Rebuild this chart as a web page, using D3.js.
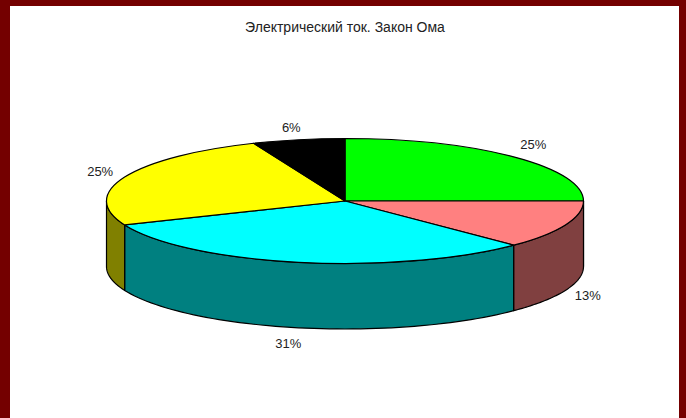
<!DOCTYPE html>
<html>
<head>
<meta charset="utf-8">
<script src="https://cdn.jsdelivr.net/npm/d3@7"></script>
<style>
  html, body { margin: 0; padding: 0; background: #740000; }
  svg { display: block; }
  text { font-family: "Liberation Sans", Arial, sans-serif; fill: #222; }
</style>
</head>
<body>
<svg id="chart"></svg>
<script>
const chartTitle = 'Электрический ток. Закон Ома';
const shares = [25, 12.5, 31.25, 25, 6.25];
const topColors = ['#00ff00', '#ff8080', '#00ffff', '#ffff00', '#000000'];
const sideColors = ['#008000', '#804040', '#008080', '#808000', '#000000'];

const width = 686,
      height = 418,
      cx = 345,
      cy = 201,
      rx = 238.5,
      ry = 62.5,
      depth = 65.5;

const svg = d3.select('#chart')
              .attr('width', width)
              .attr('height', height);

// white panel inside the dark red frame
svg.append('rect')
   .attr('x', 10)
   .attr('y', 6)
   .attr('width', 669)
   .attr('height', height - 6)
   .attr('fill', '#fff');

svg.append('text')
   .attr('x', 345)
   .attr('y', 32)
   .attr('text-anchor', 'middle')
   .attr('font-size', 14)
   .text(chartTitle);

const pie = d3.pie().sort(null).value(d => d);
const slices = pie(shares);

const xScale = d3.scaleLinear().domain([-1, 1]).range([cx - rx, cx + rx]);
const yScale = d3.scaleLinear().domain([-1, 1]).range([cy - ry, cy + ry]);

// angle 0 is at the top and goes clockwise, same as d3.pie
const rimX = a => xScale(Math.sin(a));
const rimY = a => yScale(-Math.cos(a));

const rimLine = d3.line().x(d => d[0]).y(d => d[1]);

function wallPath(start, end) {
  const a0 = Math.max(start, Math.PI / 2),
        a1 = Math.min(end, Math.PI * 1.5);
  if (a1 <= a0) return null;
  const steps = d3.range(0, 61).map(i => a0 + (a1 - a0) * i / 60);
  const upper = steps.map(a => [rimX(a), rimY(a)]);
  const lower = steps.slice().reverse().map(a => [rimX(a), rimY(a) + depth]);
  return rimLine(upper.concat(lower)) + 'Z';
}

svg.append('g')
   .selectAll('path')
   .data(slices)
   .enter()
   .append('path')
   .attr('d', d => wallPath(d.startAngle, d.endAngle))
   .attr('fill', (d, i) => sideColors[i])
   .attr('stroke', '#000')
   .attr('stroke-width', 1.2)
   .attr('stroke-linejoin', 'round');

// top face is a flat d3.arc pie squashed into an ellipse
const arc = d3.arc().innerRadius(0).outerRadius(rx);

svg.append('g')
   .attr('transform', 'translate(' + cx + ',' + cy + ') scale(1,' + (ry / rx) + ')')
   .selectAll('path')
   .data(slices)
   .enter()
   .append('path')
   .attr('d', arc)
   .attr('fill', (d, i) => topColors[i])
   .attr('stroke', '#000')
   .attr('stroke-width', 1.2)
   .attr('stroke-linejoin', 'round')
   .attr('vector-effect', 'non-scaling-stroke');

const labelRx = 265,
      labelRy = 76;

// small per label corrections, the radial placement is a bit off otherwise
const labelNudgeX = [1, -2, -5, 0, -2];
const labelNudgeY = [-3, 0, 2, 0, 1];

svg.append('g')
   .selectAll('text')
   .data(slices)
   .enter()
   .append('text')
   .attr('text-anchor', 'middle')
   .attr('dominant-baseline', 'central')
   .attr('font-size', 13)
   .attr('x', (d, i) => cx + labelRx * Math.sin((d.startAngle + d.endAngle) / 2) + labelNudgeX[i])
   .attr('y', (d, i) => {
     const mid = (d.startAngle + d.endAngle) / 2;
     const c = -Math.cos(mid);
     return cy + labelRy * c + (c > 0 ? depth : 0) + labelNudgeY[i];
   })
   .text(d => Math.round(d.data) + '%');
</script>
</body>
</html>
